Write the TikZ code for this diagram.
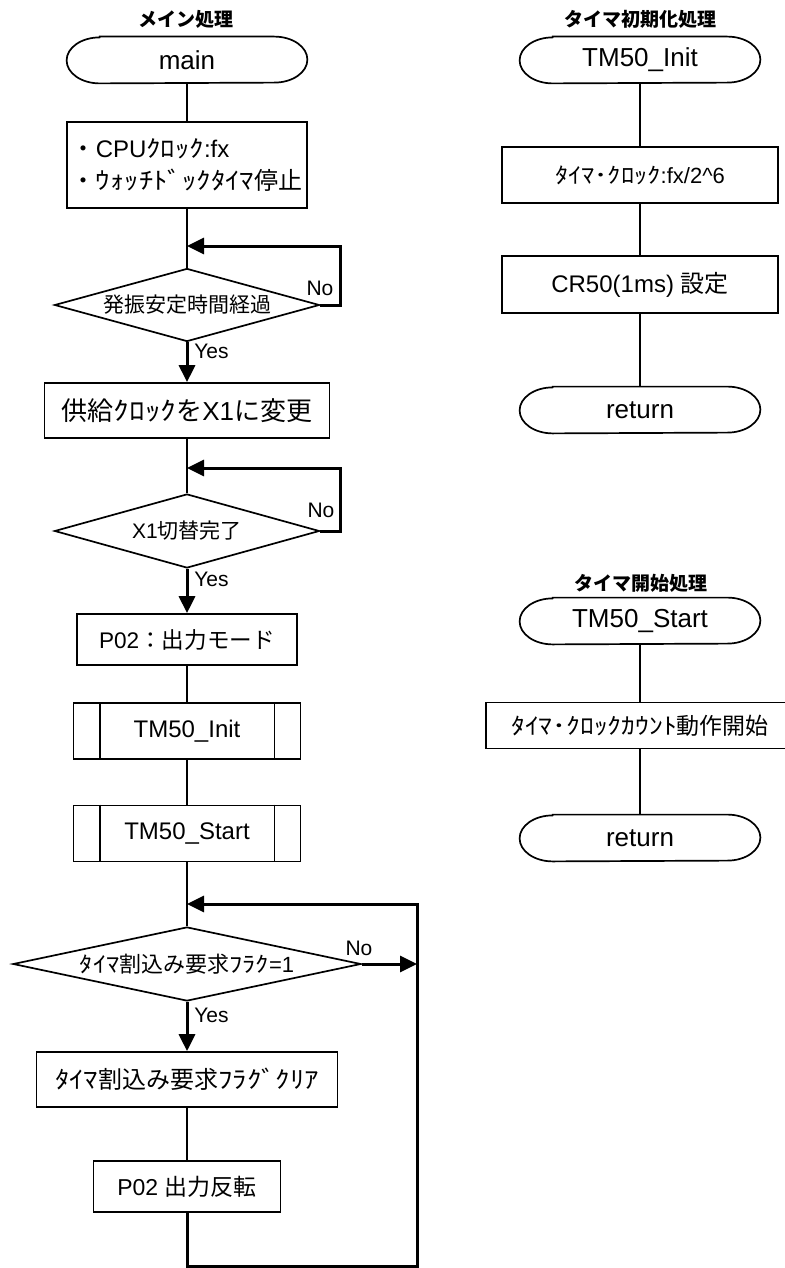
\documentclass[tikz,border=0pt]{standalone}
\usepackage{fontspec}
\setmainfont{Liberation Sans}
\newfontfamily\jpfont{Noto Sans CJK JP}
\newfontfamily\hwfont[FakeStretch=1.2]{Noto Sans CJK JP}
\newcommand{\ja}[1]{{\jpfont #1}}
\newcommand{\hw}[1]{{\hwfont #1}}
\usetikzlibrary{arrows.meta,shapes.geometric}

\tikzset{
  thinline/.style={line width=0.85pt},
  thickline/.style={line width=1.5pt},
  flowarrow/.style={thickline,-{Triangle[length=8.5pt,width=8pt]}},
  procbox/.style={draw,thinline,rectangle,inner sep=0pt},
  termbox/.style={rectangle,inner sep=0pt,minimum width=87pt,minimum height=23pt,font=\fontsize{13}{15}\selectfont},
  subbox/.style={procbox,minimum width=113.5pt,minimum height=28pt,font=\fontsize{12}{14}\selectfont},
  decision/.style={draw,thinline,diamond,aspect=3.6,inner sep=0pt},
  yesno/.style={inner sep=0pt,font=\fontsize{10.5}{12}\selectfont},
  headline/.style={inner sep=0pt,font=\jpfont\bfseries\fontsize{9.5}{11}\selectfont},
}

\begin{document}
\begin{tikzpicture}[x=0.5pt,y=-0.5pt]
\useasboundingbox (0,0) rectangle (784,1268);

	%main
	\node[headline] (tmain) at (186,19) {メイン処理};
	\node[termbox] (main) at (187,60) {main};
	\node[procbox,minimum width=120pt,minimum height=43pt,align=left,font=\fontsize{12}{16}\selectfont] (cpu) at (187,165)
	{\ja{・}CPU\hw{ｸﾛｯｸ}:fx\\\ja{・}\hw{ｳｫｯﾁﾄﾞｯｸﾀｲﾏ}\ja{停止}};
	\node[decision,minimum width=132.5pt,minimum height=36.5pt,font=\jpfont\fontsize{10.5}{12}\selectfont] (osc) at (187,305) {発振安定時間経過};
	\node[procbox,minimum width=142.5pt,minimum height=27.5pt,font=\fontsize{13}{15}\selectfont] (clk) at (187,410.5)
	{\ja{供給}\hw{ｸﾛｯｸ}\ja{を}X1\ja{に変更}};
	\node[decision,minimum width=132.5pt,minimum height=37pt,font=\fontsize{10.5}{12}\selectfont] (chg) at (187,531) {X1\ja{切替完了}};
	\node[procbox,minimum width=110pt,minimum height=25.5pt,font=\fontsize{11.3}{13}\selectfont] (pmode) at (187,639.5) {P02\ja{：出力モード}};
	\node[subbox] (init) at (187,731) {TM50\_Init};
	\node[subbox] (start) at (187,833.5) {TM50\_Start};
	\node[decision,aspect=5,minimum width=174pt,minimum height=37pt,font=\fontsize{11}{13}\selectfont] (flag) at (187,964)
	{\hw{ﾀｲﾏ}\ja{割込み要求}\hw{ﾌﾗｸ}=1};
	\node[procbox,minimum width=150.5pt,minimum height=27.5pt,font=\fontsize{12}{14}\selectfont] (clr) at (187,1079.5)
	{\hw{ﾀｲﾏ}\ja{割込み要求}\hw{ﾌﾗｸﾞｸﾘｱ}};
	\node[procbox,minimum width=93.5pt,minimum height=25.5pt,font=\fontsize{11.5}{13}\selectfont] (inv) at (187,1186.5) {P02 \ja{出力反転}};

	%yes no
	\node[yesno] (oscno) at (320,288) {No};
	\node[yesno,anchor=west] (oscyes) at (194,351) {Yes};
	\node[yesno] (chgno) at (321,510) {No};
	\node[yesno,anchor=west] (chgyes) at (194,579) {Yes};
	\node[yesno] (flagno) at (359,948) {No};
	\node[yesno,anchor=west] (flagyes) at (194,1015) {Yes};

	\draw[thinline] (main) -- (cpu);
	\draw[thinline] (cpu) -- (osc);
	\draw[flowarrow] (osc) -- (clk);
	\draw[thinline] (clk) -- (chg);
	\draw[flowarrow] (chg) -- (pmode);
	\draw[thinline] (pmode) -- (init);
	\draw[thinline] (init) -- (start);
	\draw[thinline] (start) -- (flag);
	\draw[flowarrow] (flag) -- (clr);
	\draw[thinline] (clr) -- (inv);

	%loops
	\coordinate (osclp) at (187,246);
	\coordinate (oscback) at (340,246);
	\draw[flowarrow] (osc.east) -| (oscback) -- (osclp);

	\coordinate (chglp) at (187,468);
	\coordinate (chgback) at (340,468);
	\draw[flowarrow] (chg.east) -| (chgback) -- (chglp);

	\coordinate (flagright) at (417,964);
	\draw[flowarrow] (flag.east) -- (flagright);
	\coordinate (loopbl) at (187,1266);
	\coordinate (looptr) at (417,904);
	\coordinate (flaglp) at (187,904);
	\draw[flowarrow] (inv.south) -- (loopbl) -| (looptr) -- (flaglp);

	%timer init
	\node[headline] (tinit) at (640,19) {タイマ初期化処理};
	\node[termbox] (initb) at (640,60) {TM50\_Init};
	\node[procbox,minimum width=138pt,minimum height=28pt,font=\fontsize{11}{13}\selectfont] (tclk) at (640,175)
	{\hw{ﾀｲﾏ･ｸﾛｯｸ}:fx/2\textasciicircum 6};
	\node[procbox,minimum width=138pt,minimum height=28.5pt,font=\fontsize{12}{14}\selectfont] (tcr) at (640,284.5) {CR50(1ms) \ja{設定}};
	\node[termbox] (initret) at (640,410) {return};
	\draw[thinline] (initb) -- (tclk);
	\draw[thinline] (tclk) -- (tcr);
	\draw[thinline] (tcr) -- (initret);

	%timer start
	\node[headline] (tstart) at (641,583) {タイマ開始処理};
	\node[termbox] (startb) at (640,621) {TM50\_Start};
	\node[procbox,minimum width=154pt,minimum height=23pt,font=\fontsize{11.5}{14}\selectfont] (tcnt) at (640,725.5)
	{\hw{ﾀｲﾏ･ｸﾛｯｸｶｳﾝﾄ}\ja{動作開始}};
	\node[termbox] (startret) at (640,838) {return};
	\draw[thinline] (startb) -- (tcnt);
	\draw[thinline] (tcnt) -- (startret);

	%terminal outlines
	\foreach \t in {main,initb,initret,startb,startret}
	\draw[thinline] (\t.north west) -- (\t.north east)
	 arc[start angle=90,end angle=-90,x radius=16.5pt,y radius=11.5pt] -- (\t.south west)
	 arc[start angle=-90,end angle=-270,x radius=16.5pt,y radius=11.5pt] -- cycle;

	%subroutine bars
	\foreach \s in {init,start}{
	\draw[thinline] ([xshift=13.5pt]\s.north west) -- ([xshift=13.5pt]\s.south west);
	\draw[thinline] ([xshift=-13.5pt]\s.north east) -- ([xshift=-13.5pt]\s.south east);
	}

\end{tikzpicture}
\end{document}
